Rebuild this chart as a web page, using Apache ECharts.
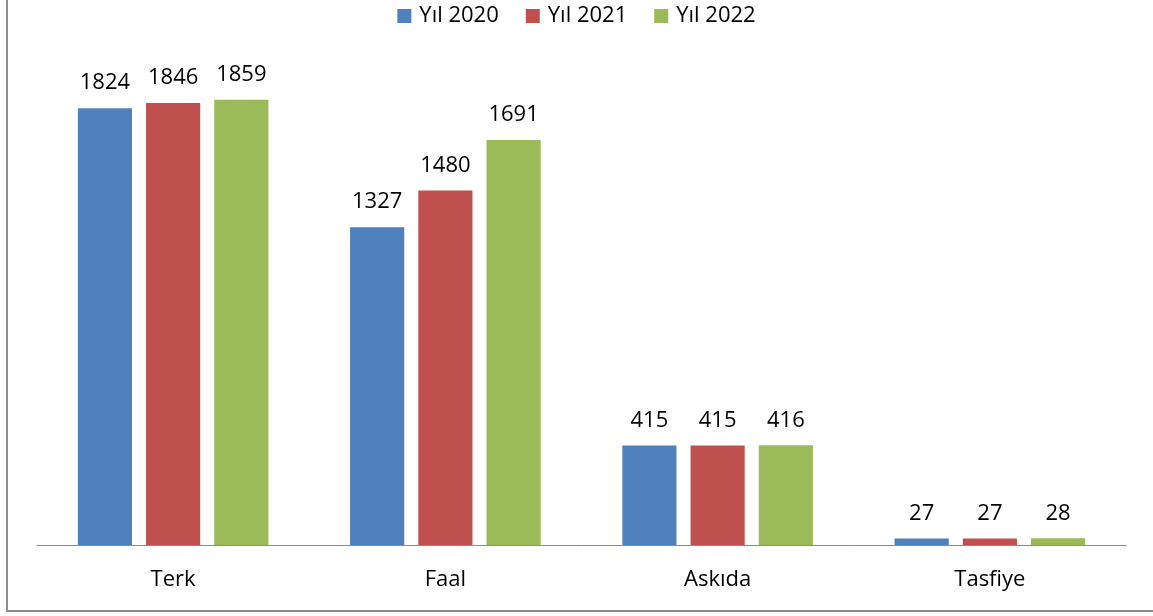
<!DOCTYPE html>
<html><head><meta charset="utf-8">
<script src="https://cdn.jsdelivr.net/npm/echarts@6/dist/echarts.min.js"></script>
<style>html,body{margin:0;padding:0;background:#fff}#c{width:1153px;height:616px}</style>
</head><body><div id="c"></div>
<script>
const categories = ['Terk', 'Faal', 'Askıda', 'Tasfiye'];
const seriesNames = ['Yıl 2020', 'Yıl 2021', 'Yıl 2022'];
const v2020 = [1824, 1327, 415, 27];
const v2021 = [1846, 1480, 415, 27];
const v2022 = [1859, 1691, 416, 28];
const colors = ['#4F81BD', '#C0504D', '#9BBB59'];
const font = 'Open Sans';
const chart = echarts.init(document.getElementById('c'));
const mk = (name, data, i) => ({
  name, type: 'bar', data,
  barGap: '26%', barCategoryGap: '30%',
  itemStyle: { color: colors[i] },
  label: { show: true, position: 'top', distance: 14, color: '#000', fontSize: 22, fontFamily: font },
  animation: false
});
chart.setOption({
  animation: false,
  graphic: [{ type: 'polyline', shape: { points: [[7, -5], [7, 611], [1160, 611]] }, style: { stroke: '#8c8c8c', lineWidth: 2, fill: null }, silent: true }],
  legend: {
    top: 0, left: 'center', itemWidth: 14, itemHeight: 14, itemGap: 27,
    icon: 'rect',
    textStyle: { fontSize: 22, fontFamily: font, color: '#000', padding: [0, 0, 0, 3] },
    data: seriesNames
  },
  grid: { left: 37, right: 27, top: 66, bottom: 71 },
  xAxis: {
    type: 'category', data: categories,
    axisLine: { lineStyle: { color: '#8c8c8c', width: 1 } },
    axisTick: { show: false },
    axisLabel: { fontSize: 22, fontFamily: font, color: '#000', margin: 24 }
  },
  yAxis: { type: 'value', min: 0, max: 2000, show: false, splitLine: { show: false } },
  series: [mk(seriesNames[0], v2020, 0), mk(seriesNames[1], v2021, 1), mk(seriesNames[2], v2022, 2)]
});
</script></body></html>
